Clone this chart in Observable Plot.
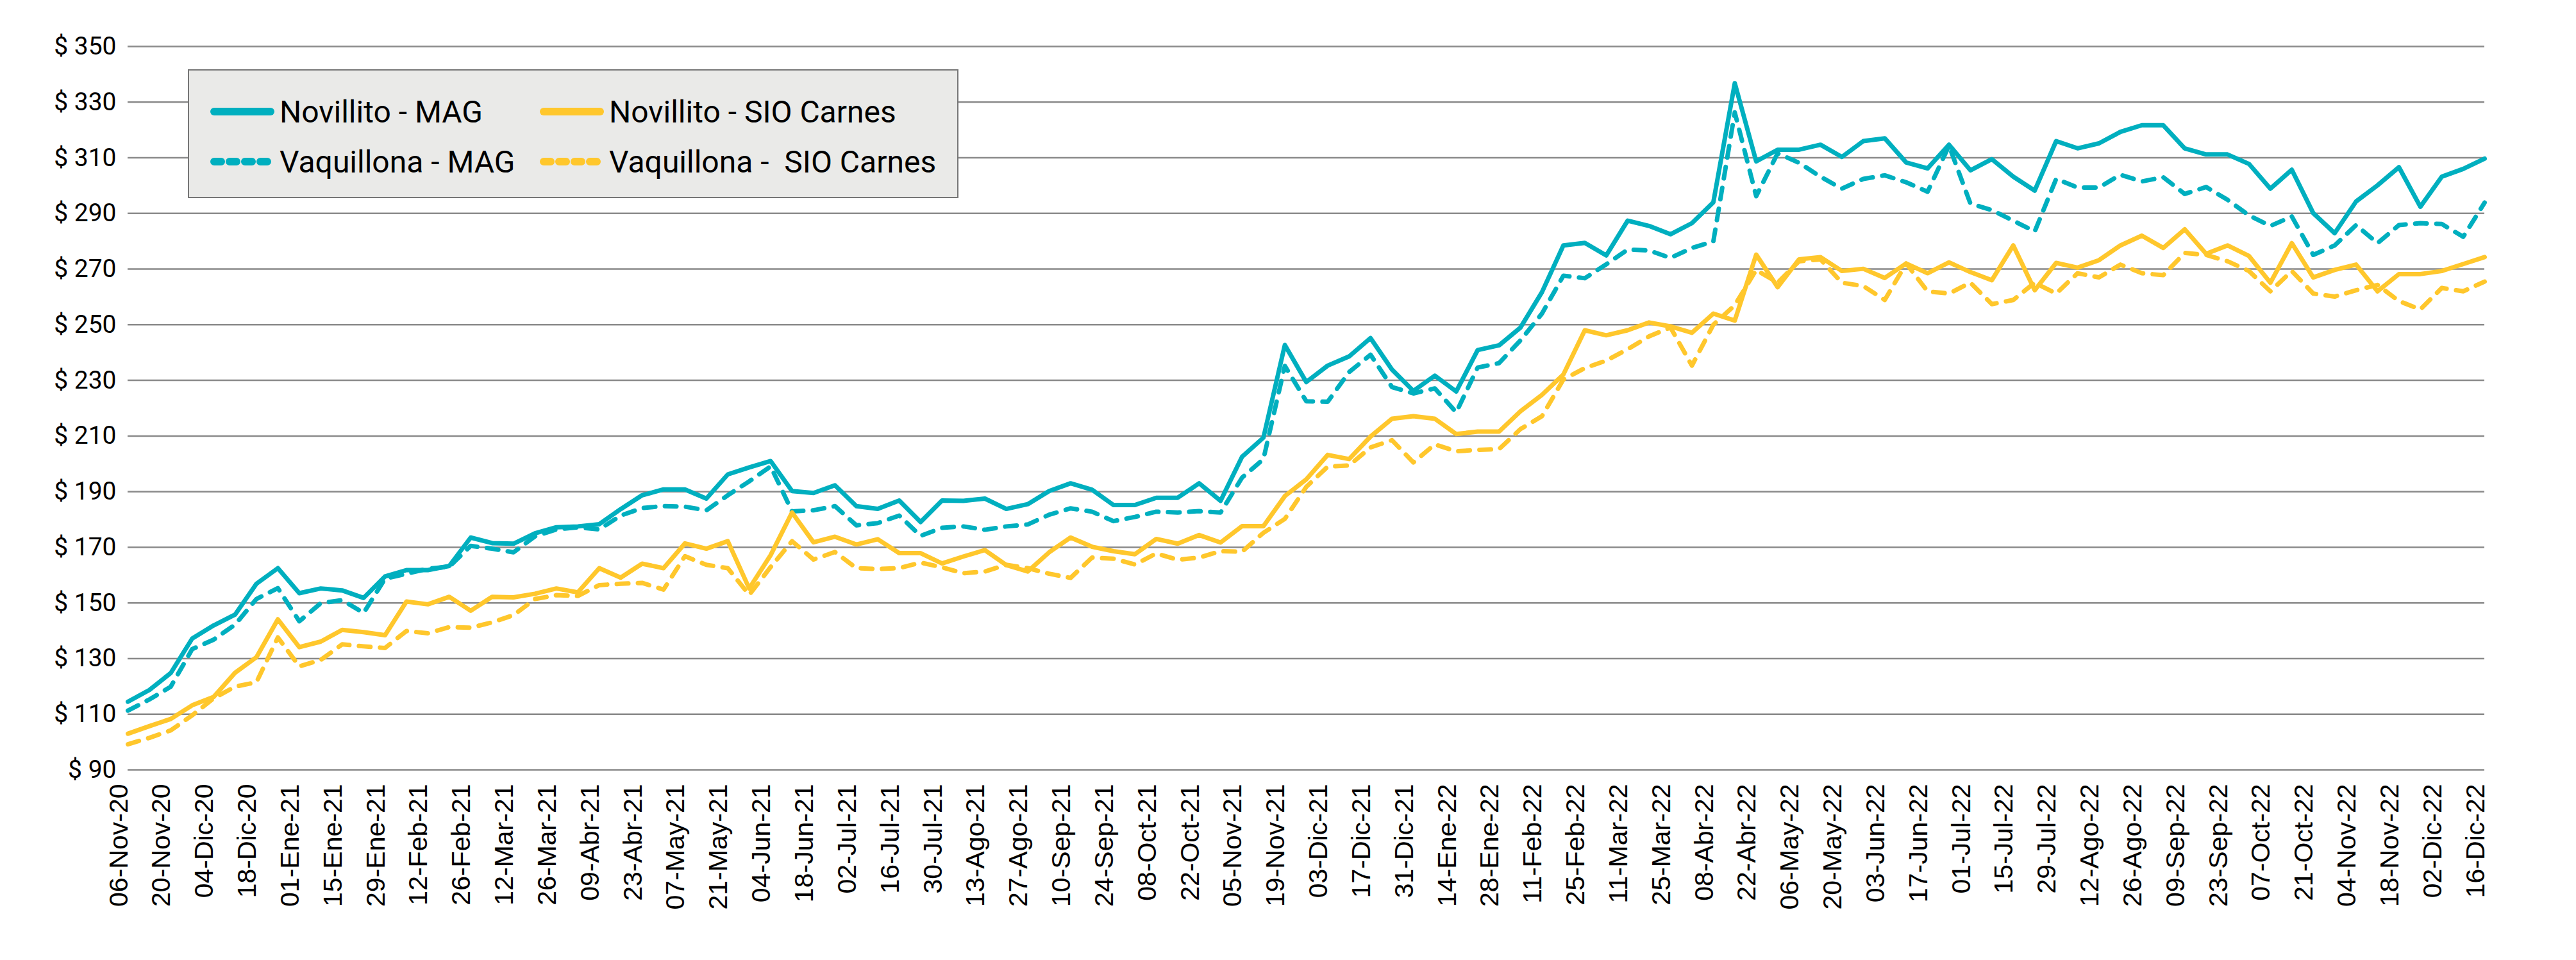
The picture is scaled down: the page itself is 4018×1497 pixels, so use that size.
<!DOCTYPE html>
<html>
<head>
<meta charset="utf-8">
<script src="https://cdn.jsdelivr.net/npm/d3@7"></script>
<script src="https://cdn.jsdelivr.net/npm/@observablehq/plot@0.6"></script>
<style>
  html, body { margin: 0; padding: 0; background: #ffffff; }
  #wrap { position: relative; width: 4018px; height: 1497px; }
  #legend {
    position: absolute; left: 293px; top: 108px; width: 1202px; height: 201px;
    box-sizing: border-box; background: #EAEAE8; border: 2px solid #767676;
    font-family: Roboto, "Noto Sans", sans-serif; font-size: 48px; color: #000;
  }
  .item { position: absolute; display: flex; align-items: center; height: 60px; white-space: pre; }
  .item svg { display: block; margin-right: 8px; }
</style>
</head>
<body>
<div id="wrap">
  <div id="chart"></div>
  <div id="legend"></div>
</div>
<script>
// Weekly categories: 06-Nov-20 ... 16-Dic-22 (111 weeks), labels every second week
const tickLabels = ["06-Nov-20","20-Nov-20","04-Dic-20","18-Dic-20","01-Ene-21","15-Ene-21","29-Ene-21","12-Feb-21","26-Feb-21","12-Mar-21","26-Mar-21","09-Abr-21","23-Abr-21","07-May-21","21-May-21","04-Jun-21","18-Jun-21","02-Jul-21","16-Jul-21","30-Jul-21","13-Ago-21","27-Ago-21","10-Sep-21","24-Sep-21","08-Oct-21","22-Oct-21","05-Nov-21","19-Nov-21","03-Dic-21","17-Dic-21","31-Dic-21","14-Ene-22","28-Ene-22","11-Feb-22","25-Feb-22","11-Mar-22","25-Mar-22","08-Abr-22","22-Abr-22","06-May-22","20-May-22","03-Jun-22","17-Jun-22","01-Jul-22","15-Jul-22","29-Jul-22","12-Ago-22","26-Ago-22","09-Sep-22","23-Sep-22","07-Oct-22","21-Oct-22","04-Nov-22","18-Nov-22","02-Dic-22","16-Dic-22"];

const seriesNames = ["Novillito - MAG", "Vaquillona - MAG", "Novillito - SIO Carnes", "Vaquillona -  SIO Carnes"];

const novilloMAG = [114.5,118.7,124.8,137.2,141.9,145.8,156.9,162.5,153.5,155.2,
154.5,151.8,159.5,161.8,161.8,163.3,173.5,171.5,171.3,175.0,
177.2,177.5,178.3,183.7,188.7,190.8,190.8,187.5,196.2,198.7,
201.0,190.2,189.5,192.3,184.8,183.8,186.8,179.1,186.8,186.7,
187.5,183.8,185.5,190.2,193.0,190.7,185.2,185.2,187.8,187.8,
193.0,186.7,202.5,209.4,242.7,229.4,235.3,238.6,245.2,233.9,
226.2,231.7,226.0,240.9,242.6,249.0,261.7,278.5,279.4,274.9,
287.4,285.5,282.5,286.5,294.0,336.8,308.7,312.9,312.9,314.7,
310.3,316.0,317.0,308.3,306.2,314.7,305.5,309.5,303.2,298.2,
316.0,313.4,315.2,319.3,321.7,321.7,313.4,311.2,311.2,307.8,
298.9,305.7,290.1,282.9,294.3,300.1,306.6,292.4,303.2,306.0,
309.7];

const vaquillonaMAG = [111.3,115.3,119.9,133.4,136.8,142.2,151.4,155.3,143.4,149.9,
151.0,146.4,158.7,160.5,162.3,163.0,170.5,169.5,168.2,173.9,
176.4,177.2,176.4,181.4,184.1,184.8,184.6,183.3,188.7,193.7,
199.1,182.9,183.3,184.8,177.9,178.7,181.4,174.1,177.0,177.5,
176.3,177.5,178.2,181.7,184.0,182.8,179.4,180.9,182.8,182.5,
183.0,182.5,195.0,201.7,235.2,222.5,222.3,233.0,239.2,227.6,
225.3,227.1,218.5,234.6,236.2,244.4,254.0,267.6,266.7,271.7,
277.0,276.7,274.0,277.6,279.9,326.3,296.2,311.6,308.2,303.2,
298.9,302.4,303.7,301.2,297.8,314.3,293.5,291.2,287.4,283.5,
302.4,299.3,299.3,303.9,301.5,303.0,297.0,299.5,294.9,289.3,
285.5,288.9,275.1,278.5,285.8,279.3,285.8,286.5,286.2,281.6,
293.9];

const novilloSIO = [103.0,105.7,108.3,113.2,116.2,124.9,130.5,144.1,134.1,136.1,
140.3,139.5,138.4,150.5,149.5,152.2,147.2,152.2,152.0,153.3,
155.2,153.8,162.5,159.1,164.1,162.5,171.4,169.5,172.2,155.2,
167.2,182.5,171.8,173.8,171.0,172.9,167.9,167.9,164.2,166.7,
169.0,163.6,161.3,168.2,173.5,170.2,168.6,167.5,173.0,171.3,
174.4,171.7,177.6,177.6,188.4,194.4,203.2,201.7,209.8,216.2,
217.1,216.2,210.7,211.6,211.6,218.9,224.8,232.1,248.0,246.2,
248.0,250.8,249.4,247.1,254.0,251.5,275.2,263.5,273.5,274.3,
269.3,270.1,266.8,272.0,268.5,272.4,268.9,266.0,278.5,262.4,
272.2,270.5,273.2,278.5,282.0,277.6,284.3,275.5,278.5,274.7,
265.1,279.3,267.0,269.7,271.6,262.0,268.2,268.2,269.3,271.8,
274.3];

const vaquillonaSIO = [99.2,101.5,104.2,109.6,115.7,119.9,121.5,137.6,127.2,129.5,
135.1,134.4,133.8,139.9,139.1,141.3,141.1,143.0,145.6,151.4,
152.8,152.5,156.4,156.9,157.2,154.8,166.8,163.7,162.5,152.9,
162.9,172.2,165.6,168.3,162.5,162.2,162.5,164.5,162.8,160.7,
161.3,163.7,162.5,160.5,159.0,166.3,165.9,163.8,167.8,165.5,
166.3,168.6,168.4,175.2,180.2,191.7,199.0,199.4,205.9,208.5,
200.5,207.0,204.5,205.0,205.3,212.5,217.1,230.3,234.4,237.1,
241.2,245.8,249.0,235.3,250.0,257.0,269.7,265.1,272.8,273.5,
265.1,263.9,258.9,272.0,262.0,261.2,265.1,257.4,258.9,265.1,
261.2,268.5,267.0,271.6,268.5,267.8,275.8,275.1,272.8,269.3,
262.0,269.3,261.2,260.1,262.4,264.3,258.5,255.5,263.2,262.0,
265.5];

const yTicks = [90,110,130,150,170,190,210,230,250,270,290,310,330,350];

const TEAL = "#00AFBF";
const YELLOW = "#FFC72C";
const styles = [
  {name: seriesNames[0], values: novilloMAG, color: TEAL, dash: null},
  {name: seriesNames[1], values: vaquillonaMAG, color: TEAL, dash: "18,15"},
  {name: seriesNames[2], values: novilloSIO, color: YELLOW, dash: null},
  {name: seriesNames[3], values: vaquillonaSIO, color: YELLOW, dash: "18,15"}
];

const lineMarks = styles.map(s => Plot.line(s.values.map((v, i) => ({week: i, value: v})), {
  x: "week", y: "value", stroke: s.color, strokeWidth: 7,
  strokeDasharray: s.dash, strokeLinecap: "round", strokeLinejoin: "round"
}));

const chart = Plot.plot({
  width: 4018,
  height: 1497,
  marginLeft: 199,
  marginRight: 143,
  marginTop: 72,
  marginBottom: 297,
  style: {background: "#ffffff", color: "#000000", fontFamily: "Roboto"},
  x: {type: "linear", domain: [0, tickLabels.length * 2 - 2]},
  y: {domain: [90, 350]},
  marks: [
    Plot.ruleY(yTicks, {stroke: "#8a8a8a", strokeWidth: 2.5}),
    Plot.axisY({ticks: yTicks, tickSize: 0, tickPadding: 18, fontSize: 39, fontFamily: "Roboto",
      tickFormat: d => "$ " + d, label: null}),
    Plot.axisX({ticks: tickLabels.map((t, k) => k * 2), tickFormat: i => tickLabels[i / 2],
      tickRotate: -90, tickSize: 0, tickPadding: 22, fontSize: 41, fontFamily: "Liberation Sans",
      dx: -14, label: null}),
    ...lineMarks
  ]
});
document.getElementById("chart").appendChild(chart);

// Legend (overlaid on the plot area as in the reference)
const legend = document.getElementById("legend");
const pos = [
  {left: 33, top: 34}, {left: 33, top: 112},
  {left: 547, top: 34}, {left: 547, top: 112}
];
styles.forEach((s, k) => {
  const it = document.createElement("div");
  it.className = "item";
  it.style.left = pos[k].left + "px";
  it.style.top = pos[k].top + "px";
  const svg = d3.create("svg").attr("width", 100).attr("height", 20);
  svg.append("line").attr("x1", 6).attr("x2", 94).attr("y1", 10).attr("y2", 10)
    .attr("stroke", s.color).attr("stroke-width", 12).attr("stroke-linecap", "round")
    .attr("stroke-dasharray", s.dash ? "11,13" : null);
  it.appendChild(svg.node());
  const t = document.createElement("span");
  t.textContent = s.name;
  it.appendChild(t);
  legend.appendChild(it);
});
</script>
</body>
</html>
